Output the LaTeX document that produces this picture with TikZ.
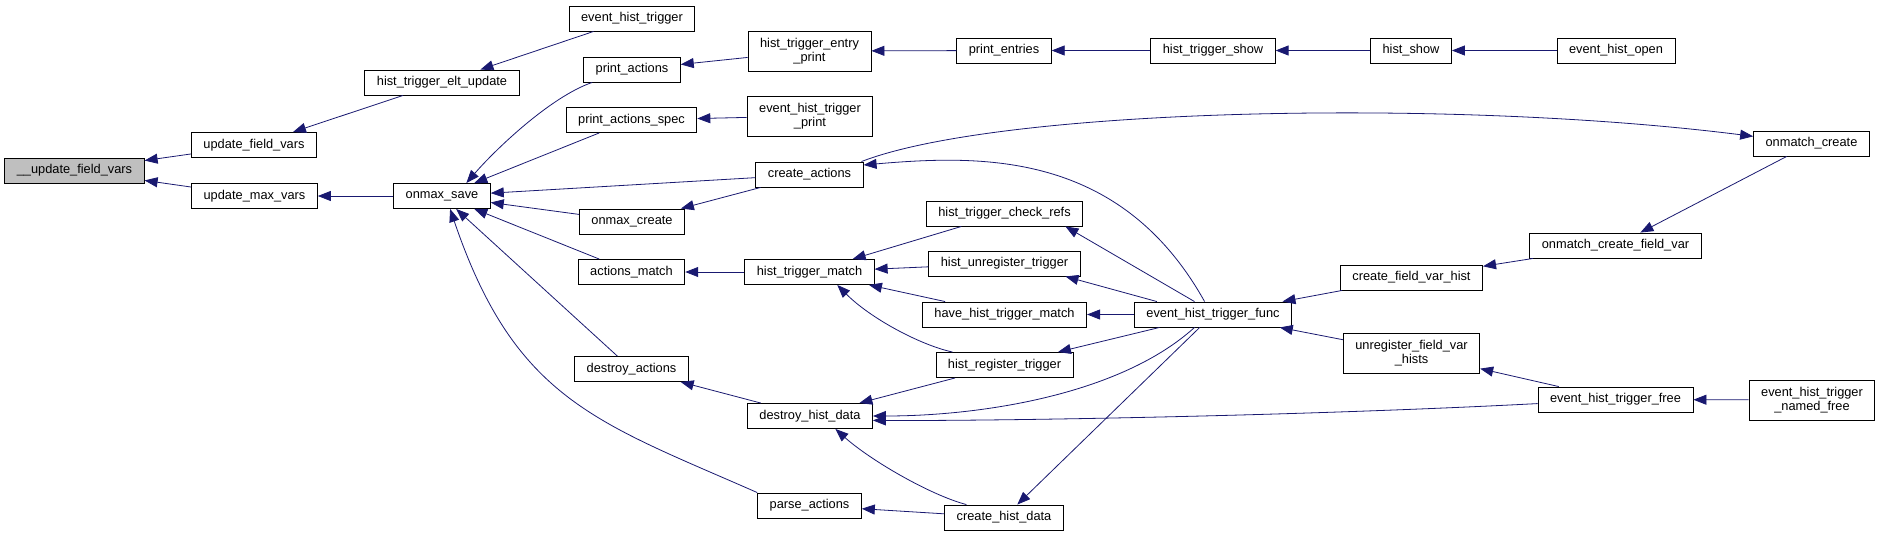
\documentclass[tikz,border=0pt]{standalone}
\usepackage{fontspec}
\setmainfont{Liberation Sans}
\usetikzlibrary{arrows.meta, positioning}
\definecolor{edgeblue}{HTML}{191970}
\definecolor{rootgray}{HTML}{BFBFBF}

\begin{document}
\begin{tikzpicture}[x=1pt, y=1pt,
  fn/.style={draw=black, line width=0.9pt, fill=white, inner xsep=12pt, inner ysep=0pt,
             minimum height=25pt, align=center, font=\fontsize{12.8}{14}\selectfont},
  fntwo/.style={fn, minimum height=40pt},
  call/.style={draw=edgeblue, line width=0.8pt, -{Triangle[length=13pt,width=10pt]}}]
  \useasboundingbox (0,0) rectangle (1880,-536);

  % column 1 -- 3
  \node[fn, fill=rootgray] (uf) at (74.5,-170.5) {\_\_update\_field\_vars};
  \node[fn] (ufv)  at (254,-145)   {update\_field\_vars};
  \node[fn] (umv)  at (254.5,-196) {update\_max\_vars};
  \node[fn] (hteu) at (442,-82.5)  {hist\_trigger\_elt\_update};
  \node[fn] (oms)  at (442,-196)   {onmax\_save};

  % column 4
  \node[fn] (eht) at (632,-18.5)   {event\_hist\_trigger};
  \node[fn] (pa)  at (632,-69.5)   {print\_actions};
  \node[fn] (pas) at (631.5,-120)  {print\_actions\_spec};
  \node[fn] (omc) at (632,-221.5)  {onmax\_create};
  \node[fn] (am)  at (631.5,-272)  {actions\_match};
  \node[fn] (da)  at (631.5,-369)  {destroy\_actions};

  % column 5
  \node[fntwo] (htep) at (809.5,-51) {hist\_trigger\_entry\\\_print};
  \node[fntwo] (ehtp) at (810,-116)  {event\_hist\_trigger\\\_print};
  \node[fn] (ca)  at (809.5,-174.5)  {create\_actions};
  \node[fn] (htm) at (809.5,-272)    {hist\_trigger\_match};
  \node[fn] (dhd) at (810,-416)      {destroy\_hist\_data};
  \node[fn] (pra) at (809.5,-505.5)  {parse\_actions};

  % column 6
  \node[fn] (pe)   at (1004,-50.5)   {print\_entries};
  \node[fn] (htcr) at (1004.5,-213.5) {hist\_trigger\_check\_refs};
  \node[fn] (hut)  at (1004.5,-263.5) {hist\_unregister\_trigger};
  \node[fn] (hhtm) at (1004.5,-314.5) {have\_hist\_trigger\_match};
  \node[fn] (hrt)  at (1004.5,-365)   {hist\_register\_trigger};
  \node[fn] (chd)  at (1004,-517.5)   {create\_hist\_data};

  % column 7 -- 10
  \node[fn] (hts)  at (1213,-50.5)  {hist\_trigger\_show};
  \node[fn] (ehtf) at (1213,-314.5) {event\_hist\_trigger\_func};
  \node[fn] (hs)   at (1411,-50.5)  {hist\_show};
  \node[fn] (cfvh) at (1411.5,-277.5) {create\_field\_var\_hist};
  \node[fntwo] (ufvh) at (1411.5,-353) {unregister\_field\_var\\\_hists};
  \node[fn] (eho)     at (1616,-50.5)   {event\_hist\_open};
  \node[fn] (omcfv)   at (1615.5,-245.5) {onmatch\_create\_field\_var};
  \node[fn] (ehtfree) at (1615.5,-399.5) {event\_hist\_trigger\_free};
  \node[fn] (omcr)    at (1811.5,-143.5) {onmatch\_create};
  \node[fntwo] (ehtnf) at (1812,-400) {event\_hist\_trigger\\\_named\_free};

  % straight calls
  \foreach \a/\b in {ufv/uf, umv/uf, hteu/ufv, oms/umv, eht/hteu, pas/oms, ca/oms,
                     omc/oms, am/oms, da/oms, htep/pa, ehtp/pas, ca/omc, htm/am,
                     dhd/da, chd/pra, pe/htep, hts/pe, hs/hts, eho/hs, omcr/omcfv,
                     omcfv/cfvh, cfvh/ehtf, ufvh/ehtf, ehtfree/ufvh, ehtnf/ehtfree,
                     hrt/dhd, ehtf/hrt, ehtf/hhtm, htcr/htm, hut/htm, hhtm/htm, ehtf/chd}
    \draw[call] (\a) -- (\b);
  \draw[call] (ehtf.145) -- (htcr.-12);
  \draw[call] (ehtf.167) -- (hut.-12);

  % curved calls
  \draw[call] (pa.-162) .. controls (550,-97) and (495,-150) .. (oms.28);
  \draw[call] (pra.north west) .. controls (597,-422) and (515,-400) .. (oms.-58);
  \draw[call] (ehtf.123) .. controls (1120,-150) and (980,-155) .. (ca.10);
  \draw[call] (ca.14) .. controls (1000,-108) and (1450,-98) .. (omcr.173);
  \draw[call] (ehtfree.183) .. controls (1300,-416) and (1000,-421) .. (dhd.-4);
  \draw[call] (ehtf.-145) .. controls (1120,-395) and (980,-416) .. (dhd.east);
  \draw[call] (hrt.166) .. controls (920,-345) and (870,-318) .. (htm.-25);
  \draw[call] (chd.161) .. controls (930,-495) and (870,-460) .. (dhd.-27);
\end{tikzpicture}
\end{document}
